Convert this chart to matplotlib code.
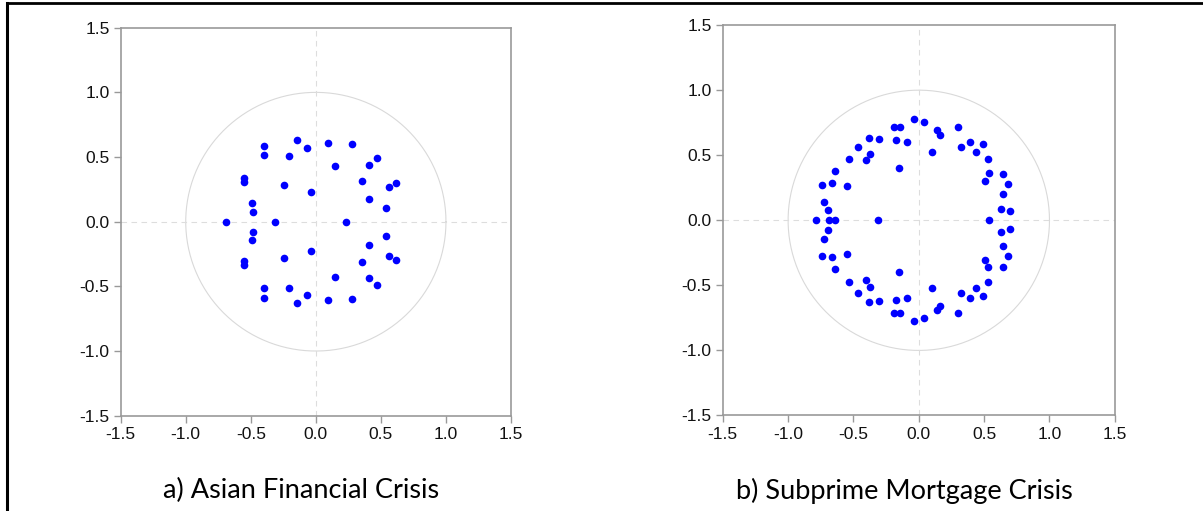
import numpy as np
import matplotlib
matplotlib.use("Agg")
import matplotlib.pyplot as plt
from matplotlib.lines import Line2D

plt.rcParams["font.family"] = ["Liberation Sans", "DejaVu Sans"]

# inverse roots
asia_re = [-0.395, -0.40, -0.146, -0.069, -0.210, 0.092, 0.274, 0.469, 0.146, 0.408,
           -0.551, -0.551, -0.244, -0.041, 0.356, 0.562, 0.613, 0.408, -0.492, -0.482,
           0.541, -0.687, -0.313, 0.228,
           -0.482, -0.492, -0.551, -0.551, -0.244, -0.041, 0.356, 0.562, 0.613, 0.408,
           0.541, 0.146, 0.408, 0.469, -0.40, -0.395, -0.210, -0.069, -0.146, 0.092, 0.274]
asia_im = [0.587, 0.515, 0.633, 0.567, 0.510, 0.608, 0.597, 0.495, 0.431, 0.436,
           0.336, 0.308, 0.282, 0.226, 0.313, 0.272, 0.297, 0.179, 0.144, 0.077,
           0.108, 0.0, 0.0, 0.0,
           -0.077, -0.144, -0.305, -0.333, -0.279, -0.223, -0.310, -0.269, -0.295, -0.177,
           -0.108, -0.428, -0.433, -0.492, -0.513, -0.587, -0.510, -0.567, -0.631, -0.608, -0.597]

sub_re = [-0.038, 0.043, -0.188, -0.140, 0.137, 0.160, 0.298, -0.382, -0.303, -0.176,
          -0.092, -0.468, 0.323, 0.389, 0.494, 0.104, 0.440, -0.372, -0.407, -0.534,
          0.527, -0.153, -0.639, 0.537, 0.646, 0.506, 0.679, -0.738, -0.662, -0.550,
          0.646, -0.723, -0.697, 0.626, 0.695,
          -0.784, -0.687, -0.641, -0.310, 0.537,
          -0.697, -0.723, 0.626, 0.695, 0.646, -0.738, -0.662, -0.550, 0.506, 0.679,
          0.527, 0.646, -0.639, -0.153, -0.534, 0.527, -0.407, -0.372, 0.104, 0.440,
          -0.468, 0.323, 0.389, 0.494, -0.382, -0.303, -0.176, -0.092, 0.137, 0.160,
          0.298, -0.188, -0.140, -0.038, 0.043]
sub_im = [0.776, 0.756, 0.720, 0.718, 0.692, 0.659, 0.715, 0.636, 0.628, 0.618,
          0.598, 0.567, 0.562, 0.598, 0.585, 0.527, 0.527, 0.511, 0.463, 0.473,
          0.473, 0.402, 0.379, 0.364, 0.359, 0.305, 0.282, 0.275, 0.288, 0.265,
          0.204, 0.142, 0.079, 0.087, 0.071,
          0.0, 0.0, 0.0, 0.0, 0.0,
          -0.074, -0.142, -0.087, -0.069, -0.201, -0.272, -0.285, -0.262, -0.305, -0.277,
          -0.361, -0.356, -0.377, -0.399, -0.471, -0.471, -0.461, -0.509, -0.524, -0.524,
          -0.562, -0.560, -0.595, -0.580, -0.631, -0.623, -0.616, -0.595, -0.687, -0.656,
          -0.710, -0.715, -0.712, -0.774, -0.753]

ticks = [-1.5, -1.0, -0.5, 0.0, 0.5, 1.0, 1.5]
tick_labels = ["-1.5", "-1.0", "-0.5", "0.0", "0.5", "1.0", "1.5"]
captions = ["a) Asian Financial Crisis", "b) Subprime Mortgage Crisis"]

fig = plt.figure(figsize=(12.03, 5.11), dpi=100)
ax1 = fig.add_axes([0.1003, 0.1865, 0.3245, 0.7593])
ax2 = fig.add_axes([0.6008, 0.1869, 0.3259, 0.7640])

theta = np.linspace(0, 2 * np.pi, 400)
for ax, xs, ys, cap in [(ax1, asia_re, asia_im, captions[0]), (ax2, sub_re, sub_im, captions[1])]:
    ax.plot(np.cos(theta), np.sin(theta), color="#d9d9d9", lw=0.8, zorder=1)
    ax.axhline(0, color="#dddddd", lw=0.8, ls=(0, (5, 4)), zorder=1)
    ax.axvline(0, color="#dddddd", lw=0.8, ls=(0, (5, 4)), zorder=1)
    ax.plot(xs, ys, "o", color="#0000ff", ms=5.5, mew=0, zorder=3)
    ax.set_xlim(-1.5, 1.5)
    ax.set_ylim(-1.5, 1.5)
    ax.set_xticks(ticks)
    ax.set_yticks(ticks)
    ax.set_xticklabels(tick_labels, fontsize=12.5, family="Liberation Sans", color="#111111")
    ax.set_yticklabels(tick_labels, fontsize=12.5, family="Liberation Sans", color="#111111")
    for s in ax.spines.values():
        s.set_color("#999999")
        s.set_linewidth(1.2)
    ax.tick_params(direction="out", length=5, width=1, color="#999999", pad=3)
    pos = ax.get_position()
    fig.text(pos.x0 + pos.width / 2 - 0.012, 0.04, cap, ha="center", va="center",
             fontsize=19.5, family="Lato", color="black")

# black frame lines at top and left
fig.add_artist(Line2D([0.0055, 1.0], [0.9935, 0.9935], transform=fig.transFigure, color="black", lw=2))
fig.add_artist(Line2D([0.0062, 0.0062], [0.0, 0.995], transform=fig.transFigure, color="black", lw=2.2))

fig.savefig("out.png", dpi=100)
